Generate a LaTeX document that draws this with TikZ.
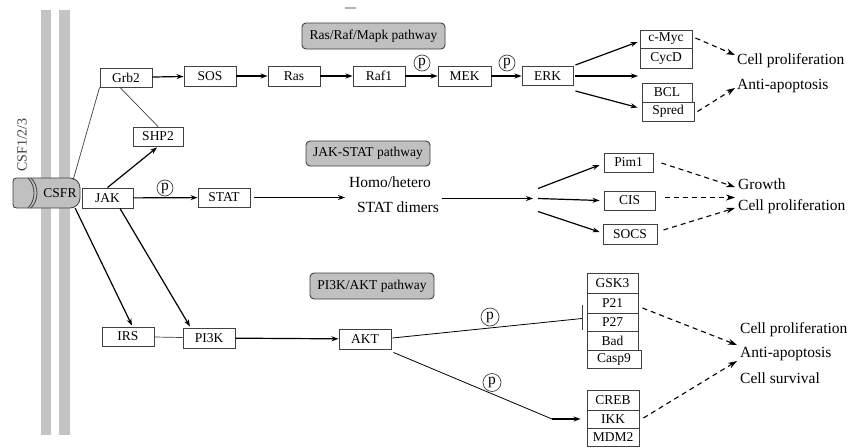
\documentclass[tikz,border=0pt]{standalone}
\usepackage{fontspec}
\setmainfont{Liberation Serif}
\usetikzlibrary{arrows.meta,calc}
\definecolor{membrane}{HTML}{C4C4C4}
\definecolor{boxline}{HTML}{404040}
\definecolor{tagfill}{HTML}{C0C0C0}
\newcommand\nodefont{\fontsize{13.5}{15}\selectfont}
\newcommand\outfont{\fontsize{15.5}{17}\selectfont}
\tikzset{
  pbox/.style={draw=boxline, fill=white, line width=0.9pt, inner sep=0pt,
    minimum width=52pt, minimum height=19pt, font=\nodefont},
  tag/.style={draw=boxline, fill=tagfill, rounded corners=4pt, line width=0.9pt,
    inner sep=0pt, minimum height=26pt, font=\nodefont},
  outtext/.style={font=\outfont, inner sep=0pt, anchor=west},
  freetext/.style={font=\outfont, inner sep=0pt},
  act/.style={line width=1.2pt, -{Stealth[length=7pt,width=5pt]}},
  link/.style={line width=0.7pt, draw=boxline},
  effect/.style={line width=1.1pt, dash pattern=on 5pt off 4pt,
    -{Stealth[length=9pt,width=6pt]}},
  phos/.style={circle, draw=boxline, line width=0.7pt, fill=white,
    minimum size=16pt, inner sep=0pt, font=\outfont},
}
\begin{document}
\begin{tikzpicture}[x=1pt,y=-1pt]
\useasboundingbox (0,0) rectangle (851,447);
\fill[white] (0,0) rectangle (851,447);

% membrane
\fill[membrane] (41,9.5) rectangle (51,435);
\fill[membrane] (59,9.5) rectangle (70,435);
\fill[gray!60] (345,6.5) rectangle (356,8.5);

% receptor
\node[rotate=90, font=\fontsize{14}{15}\selectfont, text=boxline] (csf) at (22,145) {CSF1/2/3};
\filldraw[fill=tagfill, draw=boxline, line width=0.8pt, rounded corners=10pt]
  (28,178) -- (80,178) -- (80,208) -- (28,208);
\filldraw[fill=tagfill, draw=boxline, line width=0.8pt]
  (28,178) .. controls (36,186) and (36,200) .. (28,208) -- (17,208)
  .. controls (14,208) and (13,207) .. (13,204) -- (13,182)
  .. controls (13,179) and (14,178) .. (17,178) -- cycle;
\draw[boxline, line width=0.8pt] (31,178) .. controls (39,186) and (39,200) .. (31,208);
\node[minimum width=67pt, minimum height=30pt, inner sep=0pt] (csfr) at (46.5,193) {};
\node[font=\nodefont, inner sep=0pt] (csfrtext) at (60,193) {CSFR};

% pathway tags
\node[tag, minimum width=143pt] (tagmapk) at (373.5,36) {Ras/Raf/Mapk pathway};
\node[tag, minimum width=124pt, minimum height=25pt] (tagjak) at (368,153.5) {JAK-STAT pathway};
\node[tag, minimum width=124pt] (tagakt) at (372,286) {PI3K/AKT pathway};

% Ras/Raf/Mapk nodes
\node[pbox] (grb2) at (126,77.5) {Grb2};
\node[pbox, minimum height=20pt] (sos) at (210,76) {SOS};
\node[pbox, minimum height=20pt] (ras) at (294,76) {Ras};
\node[pbox, minimum height=20pt] (raf) at (379,76) {Raf1};
\node[pbox, minimum height=20pt, minimum width=53pt] (mek) at (464.5,76) {MEK};
\node[pbox, minimum height=19pt, minimum width=51pt] (erk) at (547.5,76) {ERK};
\node[pbox, minimum height=18pt] (cmyc) at (666,39) {c-Myc};
\node[pbox, minimum height=20pt] (cycd) at (666,58) {CycD};
\node[pbox, minimum width=50pt] (bcl) at (667,92.5) {BCL};
\node[pbox] (spred) at (668,111.5) {Spred};
\node[pbox, minimum width=50pt] (shp2) at (158,136.5) {SHP2};

% JAK-STAT nodes
\node[pbox, minimum width=51pt, minimum height=20pt] (jak) at (107.5,198) {JAK};
\node[pbox] (stat) at (224,197.5) {STAT};
\node[freetext] (homo) at (390,182) {Homo/hetero};
\node[freetext] (dimers) at (398,207) {STAT dimers};
\node[pbox, minimum width=49pt] (pim1) at (628.5,162.5) {Pim1};
\node[pbox, minimum width=51pt] (cis) at (629.5,200.5) {CIS};
\node[pbox, minimum width=54pt, minimum height=20pt] (socs) at (630,234) {SOCS};

% PI3K/AKT nodes
\node[pbox] (irs) at (128,336.5) {IRS};
\node[pbox, minimum height=20pt] (pi3k) at (209,338) {PI3K};
\node[pbox, minimum height=20pt] (akt) at (365,339) {AKT};
\node[pbox, minimum width=51pt, minimum height=20pt] (gsk3) at (612.5,283) {GSK3};
\node[pbox, minimum width=51pt, minimum height=20pt] (p21) at (612.5,303) {P21};
\node[pbox, minimum width=51pt, minimum height=18pt] (p27) at (612.5,322) {P27};
\node[pbox, minimum width=51pt, minimum height=19pt] (bad) at (612.5,340.5) {Bad};
\node[pbox, minimum width=54pt, minimum height=18pt] (casp9) at (614,359) {Casp9};
\node[pbox, minimum height=20pt] (creb) at (613,400) {CREB};
\node[pbox, minimum height=18pt] (ikk) at (613,419) {IKK};
\node[pbox, minimum height=18pt] (mdm2) at (613,437.5) {MDM2};

% outcomes
\node[outtext] (prolif1) at (737,61) {Cell proliferation};
\node[outtext] (anti1) at (737,86) {Anti-apoptosis};
\node[outtext] (growth) at (738,184) {Growth};
\node[outtext] (prolif2) at (738,207) {Cell proliferation};
\node[outtext] (prolif3) at (740,330) {Cell proliferation};
\node[outtext] (anti3) at (740,354) {Anti-apoptosis};
\node[outtext] (surv3) at (740,378) {Cell survival};

% free ends
\coordinate (erkmid) at (638,76);
\coordinate (tipa) at (735,55);
\coordinate (tipb) at (735,88);
\coordinate (dimin) at (345,197.5);
\coordinate (dimout) at (442,198.5);
\coordinate (split) at (533,198.5);
\coordinate (tipc) at (735,187);
\coordinate (tipd) at (735,197.5);
\coordinate (tipe) at (735,208);
\coordinate (inh) at (582,318.5);
\coordinate (bend) at (552,419);
\coordinate (tipf) at (737,345);
\coordinate (tipg) at (737,361);

% Ras/Raf/Mapk connectors
\draw[link] ($(csfr.north east)+(-7,2)$) -- (grb2.south west);
\draw[link] ($(grb2.south)+(-6,0)$) -- (shp2.north);
\draw[act] (grb2) -- (sos);
\draw[act] (sos) -- (ras);
\draw[act] (ras) -- (raf);
\draw[act] (raf) -- (mek);
\draw[act] (mek) -- (erk);
\node[phos] (pmek) at (422,63) {p};
\node[phos] (perk) at (507,63) {p};
\draw[act] ($(erk.east)+(2,-11)$) -- ($(cmyc.west)+(-2,3)$);
\draw[act] ($(erk.east)+(2,0)$) -- (erkmid);
\draw[act] ($(erk.east)+(2,15)$) -- ($(spred.west)+(-4,-4)$);
\draw[effect] ($(cmyc.east)+(3,-1)$) -- (tipa);
\draw[effect] ($(spred.east)+(3,0)$) -- (tipb);

% JAK-STAT connectors
\draw[act] (jak.north) -- ($(shp2.south)+(-1,1)$);
\draw[act] (jak) -- (stat);
\node[phos] (pstat) at (165,188) {p};
\draw[act] ($(stat.east)+(4,0)$) -- (dimin);
\draw[act] (dimout) -- (split);
\draw[act] ($(split)+(5,-10)$) -- ($(pim1.west)+(-4,2.5)$);
\draw[act] ($(split)+(5,0)$) -- ($(cis.west)+(-4,0)$);
\draw[act] ($(split)+(5,13)$) -- ($(socs.west)+(-3,-2)$);
\draw[effect] ($(pim1.east)+(8,0.5)$) -- (tipc);
\draw[effect] ($(cis.east)+(10,-3)$) -- (tipd);
\draw[effect] ($(socs.east)+(6,-4)$) -- (tipe);

% PI3K/AKT connectors
\draw[act] ($(csfr.south east)+(-5,0)$) -- ($(irs.north)+(4,-1)$);
\draw[act] ($(jak.south)+(12.5,0)$) -- ($(pi3k.north)+(-19,-1)$);
\draw[link] (irs) -- (pi3k);
\draw[act] (pi3k) -- (akt);
\draw[line width=0.8pt] ($(akt.east)+(1,-1)$) -- (inh);
\draw[line width=0.9pt, boxline] ($(inh)+(0,-13.5)$) -- ($(inh)+(0,11.5)$);
\node[phos, minimum size=18pt] (pgsk) at (490,317) {p};
\draw[line width=0.8pt] ($(akt.south east)+(2,3)$) -- (bend);
\draw[act] (bend) -- ($(ikk.west)+(-6,0)$);
\node[phos, minimum size=18pt] (pikk) at (492,382.5) {p};
\draw[effect] ($(p21.east)+(4,5)$) -- (tipf);
\draw[effect] ($(ikk.east)+(4,-1)$) -- (tipg);
\end{tikzpicture}
\end{document}
